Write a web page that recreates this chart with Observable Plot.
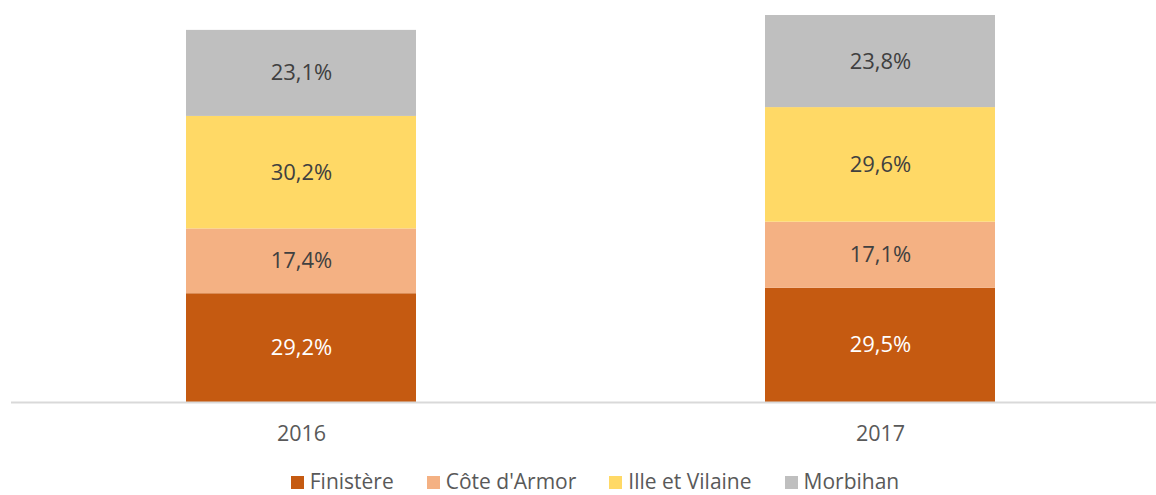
<!DOCTYPE html>
<html>
<head>
<meta charset="utf-8">
<script src="https://cdn.jsdelivr.net/npm/d3@7"></script>
<script src="https://cdn.jsdelivr.net/npm/@observablehq/plot@0.6"></script>
<style>
  body { margin: 0; background: #fff; font-family: "Open Sans", Lato, sans-serif; overflow: hidden; }
  #legend { display: flex; justify-content: center; gap: 33px; font-size: 21px; line-height: 22px; color: #595959; height: 22px; align-items: center; margin-top: 5px; margin-left: 34px; white-space: nowrap; }
  #legend span.sw { display: inline-block; width: 13px; height: 13px; margin-right: 6px; vertical-align: middle; position: relative; top: -1px; }
</style>
</head>
<body>
<div id="chart"></div>
<div id="legend"></div>
<script>
const years = ["2016", "2017"];
const regions = ["Finistère", "Côte d'Armor", "Ille et Vilaine", "Morbihan"];
const colors = ["#C55A11", "#F4B183", "#FFD966", "#BFBFBF"];
// shares (%) per region, per year
const shares2016 = [29.2, 17.4, 30.2, 23.1];
const shares2017 = [29.5, 17.1, 29.6, 23.8];
// relative size of each year's total (2016 = 100)
const totals = [100, 104];

const shares = [shares2016, shares2017];
const data = [];
years.forEach((y, i) => {
  const s = d3.sum(shares[i]);
  regions.forEach((r, j) => {
    data.push({year: y, region: r, share: shares[i][j], value: shares[i][j] / s * totals[i]});
  });
});

const chart = Plot.plot({
  width: 1156,
  height: 465,
  marginTop: 15,
  marginBottom: 63,
  marginLeft: 11,
  marginRight: 0,
  style: {fontFamily: "'Open Sans', Lato, sans-serif"},
  x: {domain: years, paddingInner: 0.6034, paddingOuter: 0.2888, align: 0.52, label: null},
  y: {domain: [0, 104], axis: null},
  color: {domain: regions, range: colors},
  marks: [
    Plot.barY(data, {x: "year", y: "value", fill: "region", order: regions}),
    Plot.text(data, Plot.stackY({
      x: "year", y: "value", order: regions,
      text: d => d.share.toFixed(1).replace(".", ",") + "%",
      fill: d => d.region === "Finistère" ? "#ffffff" : "#404040",
      fontSize: 22
    })),
    Plot.ruleY([0], {stroke: "#d9d9d9", strokeWidth: 2}),
    Plot.axisX({tickSize: 0, tickPadding: 23, fontSize: 21.5, color: "#595959", label: null})
  ]
});
document.getElementById("chart").appendChild(chart);

const legend = document.getElementById("legend");
regions.forEach((r, j) => {
  const item = document.createElement("div");
  item.innerHTML = `<span class="sw" style="background:${colors[j]}"></span>${r}`;
  legend.appendChild(item);
});
</script>
</body>
</html>
